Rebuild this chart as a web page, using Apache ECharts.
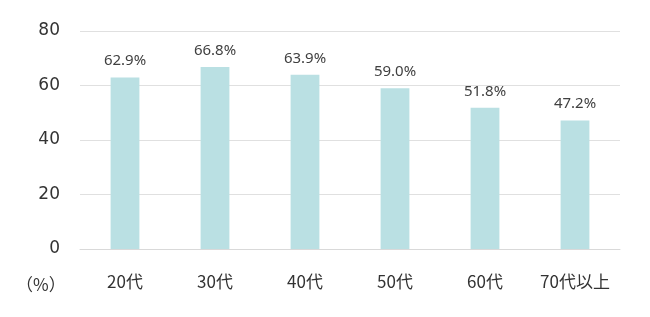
<!DOCTYPE html>
<html><head><meta charset="utf-8">
<script src="https://cdn.jsdelivr.net/npm/echarts@6/dist/echarts.min.js"></script>
<style>html,body{margin:0;padding:0;background:#fff}#c{width:650px;height:317px}</style>
</head><body><div id="c"></div>
<script>
const categories = ["20代", "30代", "40代", "50代", "60代", "70代以上"];
const values = [62.9, 66.8, 63.9, 59.0, 51.8, 47.2];
const yTicks = [0, 20, 40, 60, 80];
const unitLabel = "（%）";

const chart = echarts.init(document.getElementById('c'));
chart.setOption({
  animation: false,
  grid: { left: 80, right: 30, top: 31, bottom: 68 },
  xAxis: {
    type: 'category', data: categories,
    axisLine: { lineStyle: { color: '#d9d9d9' } },
    axisTick: { show: false },
    axisLabel: { interval: 0, margin: 24, fontSize: 17, color: '#333', fontFamily: 'Noto Sans CJK JP' }
  },
  yAxis: {
    type: 'value', min: yTicks[0], max: yTicks[yTicks.length - 1], interval: 20,
    axisLine: { show: false }, axisTick: { show: false },
    splitLine: { lineStyle: { color: '#e0e0e0' } },
    axisLabel: { margin: 20, fontSize: 17, color: '#333', fontFamily: 'DejaVu Sans' }
  },
  graphic: [{ type: 'text', left: 16, top: 276, style: { text: unitLabel, fontSize: 17, fill: '#333', fontFamily: 'Noto Sans CJK JP' } }],
  series: [{
    type: 'bar', data: values, barWidth: '32%',
    itemStyle: { color: '#bae0e3' },
    label: { show: true, position: 'top', distance: 9, fontSize: 15, color: '#404040', fontFamily: 'Noto Sans',
      formatter: p => p.value.toFixed(1) + '%' }
  }]
});
</script></body></html>
